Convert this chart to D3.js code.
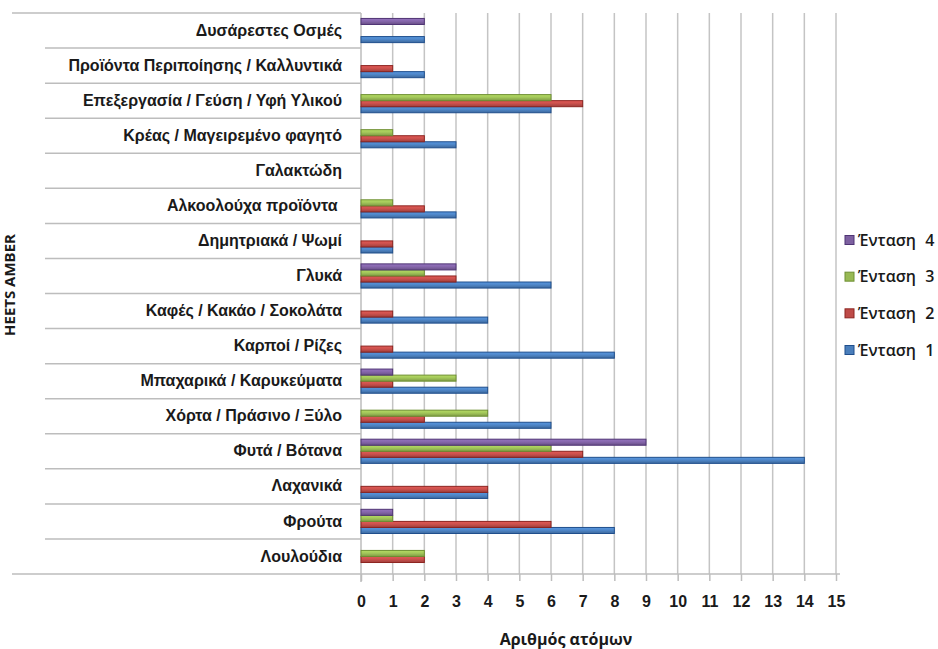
<!DOCTYPE html>
<html>
<head>
<meta charset="utf-8">
<script src="https://cdn.jsdelivr.net/npm/d3@7"></script>
<style>
  html, body { margin: 0; padding: 0; background: #fff; }
  svg { display: block; font-family: "Open Sans", "Noto Sans", sans-serif; }
</style>
</head>
<body>
<svg id="chart" width="938" height="649"></svg>
<script>
// Categories, listed top to bottom as they appear on the axis
const categories = [
  "Δυσάρεστες Οσμές",
  "Προϊόντα Περιποίησης / Καλλυντικά",
  "Επεξεργασία / Γεύση / Υφή Υλικού",
  "Κρέας / Μαγειρεμένο φαγητό",
  "Γαλακτώδη",
  "Αλκοολούχα προϊόντα\u00a0",
  "Δημητριακά / Ψωμί",
  "Γλυκά",
  "Καφές / Κακάο / Σοκολάτα",
  "Καρποί / Ρίζες",
  "Μπαχαρικά / Καρυκεύματα",
  "Χόρτα / Πράσινο / Ξύλο",
  "Φυτά / Βότανα",
  "Λαχανικά",
  "Φρούτα",
  "Λουλούδια"
];

// Number of people per intensity level, same order as categories
const intensity1 = [2, 2, 6, 3, 0, 3, 1, 6, 4, 8, 4, 6, 14, 4, 8, 0];
const intensity2 = [0, 1, 7, 2, 0, 2, 1, 3, 1, 1, 1, 2, 7, 4, 6, 2];
const intensity3 = [0, 0, 6, 1, 0, 1, 0, 2, 0, 0, 3, 4, 6, 0, 1, 2];
const intensity4 = [2, 0, 0, 0, 0, 0, 0, 3, 0, 0, 1, 0, 9, 0, 1, 0];

const seriesNames = ["Ένταση 1", "Ένταση 2", "Ένταση 3", "Ένταση 4"];
const seriesValues = [intensity1, intensity2, intensity3, intensity4];
const seriesColors = ["#4a7ebb", "#be4b48", "#98b954", "#7d60a0"];
const seriesDark = ["#1f4e8c", "#8c2420", "#6e8f32", "#4f3474"];

const xTicks = d3.range(0, 16);
const xTitle = "Αριθμός ατόμων";
const yTitle = "HEETS AMBER";

const svg = d3.select("#chart");
const plotL = 361, plotR = 836, plotT = 13, plotB = 574;

const x = d3.scaleLinear().domain([0, 15]).range([plotL, plotR]);
const y = d3.scaleBand().domain(categories).range([plotT, plotB]);
// series 4 on top of each group, series 1 at the bottom
const ySub = d3.scaleBand().domain([3, 2, 1, 0]).range([0, y.bandwidth()]).paddingOuter(0.9);

// gradients for the bars: darker edges, lighter middle
const defs = svg.append("defs");
seriesColors.forEach((c, i) => {
  const g = defs.append("linearGradient").attr("id", "grad" + i)
    .attr("x1", 0).attr("y1", 0).attr("x2", 0).attr("y2", 1);
  g.append("stop").attr("offset", "0%").attr("stop-color", d3.color(c).brighter(0.5));
  g.append("stop").attr("offset", "45%").attr("stop-color", d3.color(c).brighter(0.2));
  g.append("stop").attr("offset", "100%").attr("stop-color", d3.color(c).darker(0.5));
});

// vertical gridlines
svg.append("g").selectAll("line").data(xTicks.slice(1)).join("line")
  .attr("x1", d => x(d)).attr("x2", d => x(d))
  .attr("y1", plotT).attr("y2", plotB)
  .attr("stroke", "#c4c4c4").attr("stroke-width", 1.5);

// category separators in the label area
const bounds = categories.map(c => y(c)).concat([plotB]);
svg.append("g").selectAll("line").data(bounds).join("line")
  .attr("x1", (d, i) => (i === 0 || i === bounds.length - 1) ? 12 : 45)
  .attr("x2", plotL)
  .attr("y1", d => d).attr("y2", d => d)
  .attr("stroke", "#bdbdbd").attr("stroke-width", 1.5);

// value axis line
svg.append("line").attr("x1", plotL).attr("x2", 840)
  .attr("y1", plotB).attr("y2", plotB)
  .attr("stroke", "#bdbdbd").attr("stroke-width", 1.5);
// category axis line
svg.append("line").attr("x1", plotL).attr("x2", plotL)
  .attr("y1", plotT).attr("y2", plotB + 8)
  .attr("stroke", "#bdbdbd").attr("stroke-width", 1.5);

// bars
const groups = svg.append("g").selectAll("g").data(seriesValues).join("g");
groups.each(function (vals, si) {
  d3.select(this).selectAll("rect")
    .data(vals.map((v, ci) => ({ v, c: categories[ci] })).filter(d => d.v > 0))
    .join("rect")
    .attr("x", x(0))
    .attr("y", d => y(d.c) + ySub(si))
    .attr("width", d => x(d.v) - x(0))
    .attr("height", ySub.bandwidth())
    .attr("fill", "url(#grad" + si + ")")
    .attr("stroke", seriesDark[si])
    .attr("stroke-width", 1);
});

// x axis
const xAxis = d3.axisBottom(x).tickValues(xTicks).tickSize(7).tickPadding(15).tickFormat(d3.format("d"));
const gx = svg.append("g").attr("transform", `translate(0,${plotB})`).call(xAxis);
gx.select(".domain").remove();
gx.selectAll(".tick line").attr("stroke", "#bdbdbd").attr("stroke-width", 1.5);
gx.selectAll(".tick text").attr("font-size", 16).attr("font-weight", "bold").attr("fill", "#1a1a1a");

// y axis labels
const yAxis = d3.axisLeft(y).tickSize(0).tickPadding(19);
const gy = svg.append("g").attr("transform", `translate(${plotL},0)`).call(yAxis);
gy.select(".domain").remove();
gy.selectAll(".tick text").attr("font-size", 16).attr("font-weight", "bold").attr("fill", "#1a1a1a");

// axis titles
svg.append("text").attr("x", 566).attr("y", 645).attr("text-anchor", "middle")
  .attr("font-size", 16).attr("font-weight", "bold").attr("fill", "#1a1a1a").text(xTitle);
svg.append("text").attr("transform", "translate(15,285) rotate(-90)").attr("text-anchor", "middle")
  .attr("font-size", 15).attr("font-weight", "bold").attr("fill", "#1a1a1a").text(yTitle);

// legend
const legendY = d3.scalePoint().domain([3, 2, 1, 0]).range([240, 350]);
const lg = svg.append("g").selectAll("g").data([3, 2, 1, 0]).join("g")
  .attr("transform", d => `translate(845,${legendY(d)})`);
lg.append("rect").attr("x", 0).attr("y", -4.5).attr("width", 9).attr("height", 9)
  .attr("fill", d => seriesColors[d]).attr("stroke", d => seriesDark[d]).attr("stroke-width", 1);
lg.append("text").attr("x", 13).attr("y", 0).attr("dy", "0.35em")
  .attr("font-size", 16).attr("font-weight", 600).attr("fill", "#1a1a1a")
  .attr("word-spacing", 5)
  .text(d => seriesNames[d]);
</script>
</body>
</html>
